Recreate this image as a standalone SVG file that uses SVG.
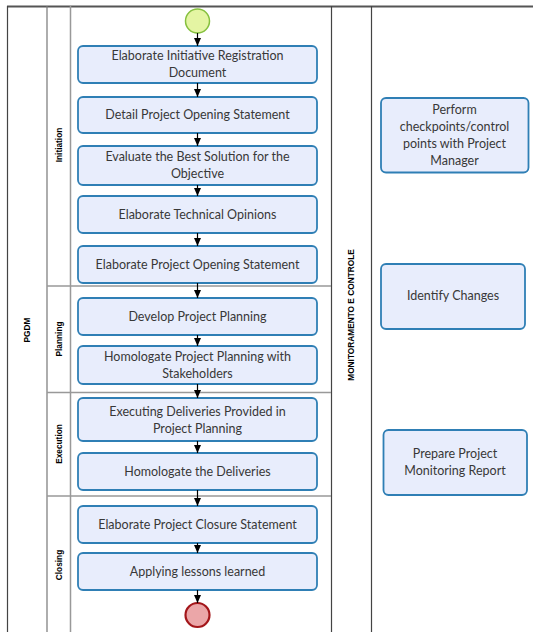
<svg xmlns="http://www.w3.org/2000/svg" width="533" height="632" viewBox="0 0 533 632">
<defs>
<marker id="ah" markerWidth="8" markerHeight="7" refX="8" refY="3.5" orient="auto" markerUnits="userSpaceOnUse">
<path d="M0,0 L8,3.5 L0,7 z" fill="#000"/>
</marker>
<style>
.task{fill:#e8edfc;stroke:#2f7fb5;stroke-width:1.8}
.t{font-family:Lato,"Liberation Sans",sans-serif;font-size:12.5px;fill:#383838;text-anchor:middle}
.lbl{font-family:"Liberation Sans",Arial,sans-serif;font-size:8.3px;font-weight:bold;fill:#000;text-anchor:middle}
.conn{stroke:#000;stroke-width:1.2;fill:none;marker-end:url(#ah)}
.frame{stroke:#444;stroke-width:1.2;fill:none}
.lane{stroke:#999;stroke-width:1.5;fill:none}
</style>
</defs>
<rect width="533" height="632" fill="#fff"/>
<g id="pool">
<line x1="7" y1="6.5" x2="533" y2="6.5" stroke="#555" stroke-width="2"/>
<line x1="7.5" y1="6" x2="7.5" y2="632" class="frame"/>
<line x1="47" y1="6" x2="47" y2="632" stroke="#777" stroke-width="1.2"/>
<line x1="70.5" y1="6" x2="70.5" y2="632" class="lane"/>
<line x1="331.5" y1="6" x2="331.5" y2="632" class="frame"/>
<line x1="371.5" y1="6" x2="371.5" y2="632" class="frame"/>
<line x1="47" y1="286" x2="331" y2="286" class="lane"/>
<line x1="47" y1="392.5" x2="331" y2="392.5" class="lane"/>
<line x1="47" y1="496" x2="331" y2="496" class="lane"/>
<text class="lbl" transform="translate(30,330) rotate(-90)">PGDM</text>
<text class="lbl" transform="translate(62,145) rotate(-90)">Initiation</text>
<text class="lbl" transform="translate(62,339) rotate(-90)">Planning</text>
<text class="lbl" transform="translate(62,444) rotate(-90)">Execution</text>
<text class="lbl" transform="translate(62,565) rotate(-90)">Closing</text>
<text class="lbl" transform="translate(354,315) rotate(-90)">MONITORAMENTO E CONTROLE</text>
</g>
<g id="start"><circle cx="197.5" cy="21" r="12" fill="#e4f5a3" stroke="#86c03f" stroke-width="1.5"/></g>
<g id="end"><circle cx="197.5" cy="615" r="12" fill="#eba6a8" stroke="#a3161a" stroke-width="2.2"/></g>
<g id="n1"><rect class="task" x="78" y="46" width="239" height="37" rx="5"/><text class="t" x="197.5" y="60">Elaborate Initiative Registration</text><text class="t" x="197.5" y="77">Document</text></g>
<g id="n2"><rect class="task" x="78" y="97" width="239" height="36" rx="5"/><text class="t" x="197.5" y="119">Detail Project Opening Statement</text></g>
<g id="n3"><rect class="task" x="78" y="146" width="239" height="39" rx="5"/><text class="t" x="197.5" y="161">Evaluate the Best Solution for the</text><text class="t" x="197.5" y="178">Objective</text></g>
<g id="n4"><rect class="task" x="78" y="196" width="239" height="37" rx="5"/><text class="t" x="197.5" y="218.5">Elaborate Technical Opinions</text></g>
<g id="n5"><rect class="task" x="78" y="246" width="239" height="37" rx="5"/><text class="t" x="197.5" y="268.5">Elaborate Project Opening Statement</text></g>
<g id="n6"><rect class="task" x="78" y="298" width="239" height="37" rx="5"/><text class="t" x="197.5" y="320.5">Develop Project Planning</text></g>
<g id="n7"><rect class="task" x="78" y="346" width="239" height="38" rx="5"/><text class="t" x="197.5" y="361">Homologate Project Planning with</text><text class="t" x="197.5" y="378">Stakeholders</text></g>
<g id="n8"><rect class="task" x="78" y="398" width="239" height="43" rx="5"/><text class="t" x="197.5" y="415.5">Executing Deliveries Provided in</text><text class="t" x="197.5" y="432.5">Project Planning</text></g>
<g id="n9"><rect class="task" x="78" y="453" width="239" height="37" rx="5"/><text class="t" x="197.5" y="475.5">Homologate the Deliveries</text></g>
<g id="n10"><rect class="task" x="78" y="506" width="239" height="37" rx="5"/><text class="t" x="197.5" y="528.5">Elaborate Project Closure Statement</text></g>
<g id="n11"><rect class="task" x="78" y="553" width="239" height="37" rx="5"/><text class="t" x="197.5" y="575.5">Applying lessons learned</text></g>
<g id="m1"><rect class="task" x="381" y="98" width="147.5" height="74.5" rx="5"/><text class="t" x="454.5" y="114">Perform</text><text class="t" x="454.5" y="131">checkpoints/control</text><text class="t" x="454.5" y="148">points with Project</text><text class="t" x="454.5" y="165">Manager</text></g>
<g id="m2"><rect class="task" x="381" y="264" width="144" height="65" rx="5"/><text class="t" x="453" y="300">Identify Changes</text></g>
<g id="m3"><rect class="task" x="383.5" y="430" width="143.5" height="65" rx="5"/><text class="t" x="455" y="458">Prepare Project</text><text class="t" x="455" y="475">Monitoring Report</text></g>
<g id="connectors">
<line class="conn" x1="197.5" y1="33" x2="197.5" y2="46"/>
<line class="conn" x1="197.5" y1="83" x2="197.5" y2="97"/>
<line class="conn" x1="197.5" y1="133" x2="197.5" y2="146"/>
<line class="conn" x1="197.5" y1="185" x2="197.5" y2="196"/>
<line class="conn" x1="197.5" y1="233" x2="197.5" y2="246"/>
<line class="conn" x1="197.5" y1="283" x2="197.5" y2="298"/>
<line class="conn" x1="197.5" y1="335" x2="197.5" y2="346"/>
<line class="conn" x1="197.5" y1="384" x2="197.5" y2="398"/>
<line class="conn" x1="197.5" y1="441" x2="197.5" y2="453"/>
<line class="conn" x1="197.5" y1="490" x2="197.5" y2="506"/>
<line class="conn" x1="197.5" y1="543" x2="197.5" y2="553"/>
<line class="conn" x1="197.5" y1="590" x2="197.5" y2="603"/>
</g>
</svg>
